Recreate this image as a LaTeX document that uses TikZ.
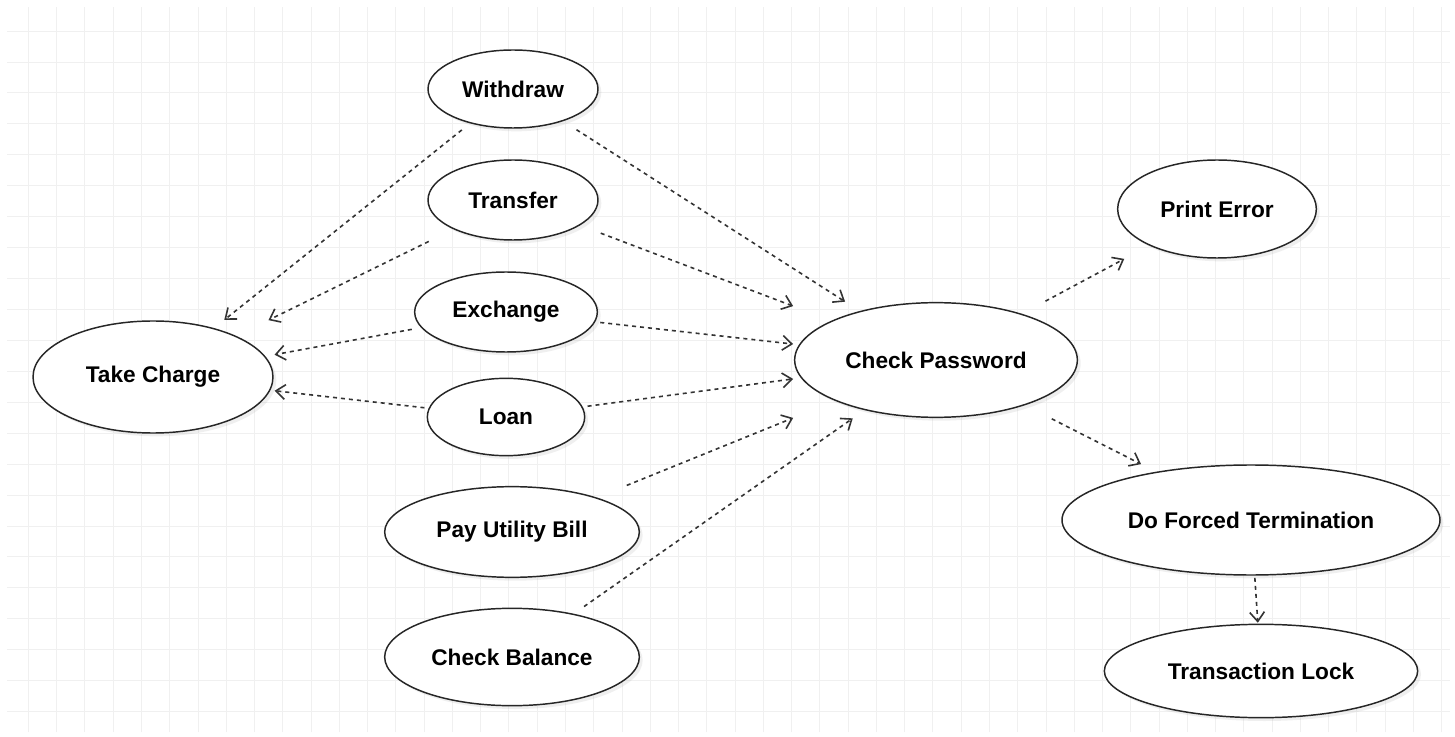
\documentclass[tikz,border=0pt]{standalone}
\usepackage{fontspec}
\setmainfont{Liberation Sans}
\usepackage{tikz}
\usetikzlibrary{arrows.meta,shapes.geometric,shadows}

\tikzset{
	oval/.style={ellipse, draw=black!85, line width=1.1pt, fill=white, inner sep=0pt,
		font=\fontsize{17}{20}\selectfont\bfseries,
		drop shadow={opacity=0.12, shadow xshift=2.5pt, shadow yshift=-2.5pt}},
	usecase/.style n args={3}{rectangle, inner sep=0pt, minimum width=#1, minimum height=#2,
		label={[oval, minimum width=#1, minimum height=#2]center:#3}},
	dep/.style={draw=black!80, line width=1.2pt, dash pattern=on 3pt off 3pt,
		-{Straight Barb[length=7pt,width=11pt]}, shorten <=2pt, shorten >=1pt},
	gridline/.style={draw=black!6, line width=0.5pt}
}

\begin{document}
\begin{tikzpicture}[x=0.75pt, y=-0.75pt]
			\useasboundingbox[fill=white] (0,0) rectangle (1455,737);
			\draw[gridline] (7,7) grid[xstep=21.2pt, ystep=23.2pt] (1450,732);

			\node[usecase={127.5pt}{58.5pt}{Withdraw}]         (withdraw)    at (513,89)   {};
			\node[usecase={127.5pt}{60pt}{Transfer}]           (transfer)    at (513,200)  {};
			\node[usecase={137pt}{60pt}{Exchange}]             (exchange)    at (506,312)  {};
			\node[usecase={118pt}{58pt}{Loan}]                 (loan)        at (506,417)  {};
			\node[usecase={191pt}{68pt}{Pay Utility Bill}]     (bill)        at (512,532)  {};
			\node[usecase={191pt}{73pt}{Check Balance}]        (balance)     at (512,657)  {};
			\node[usecase={180pt}{84pt}{Take Charge}]          (charge)      at (153,377)  {};
			\node[usecase={212pt}{86pt}{Check Password}]       (password)    at (936,360)  {};
			\node[usecase={149pt}{73.5pt}{Print Error}]        (error)       at (1217,209) {};
			\node[usecase={283.5pt}{82.5pt}{Do Forced Termination}] (termination) at (1251,520) {};
			\node[usecase={235pt}{70pt}{Transaction Lock}]     (lock)        at (1261,671) {};

			\path[dep]
			(withdraw) edge (charge) edge (password)
			(transfer) edge (charge) edge (password)
			(exchange) edge (charge) edge (password)
			(loan) edge (charge) edge (password)
			(bill) edge (password)
			(balance) edge (password)
			(password) edge (error) edge (termination)
			(termination) edge (lock);
		\end{tikzpicture}
\end{document}
